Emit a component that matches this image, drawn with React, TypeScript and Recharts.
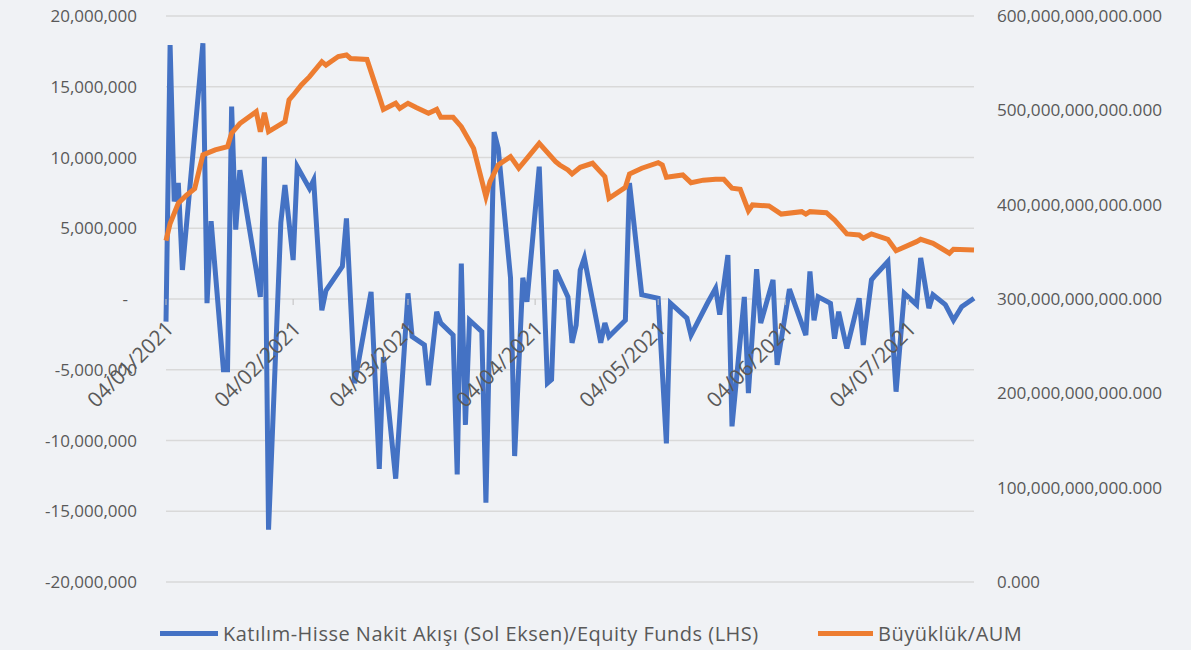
import React from 'react';
import { LineChart, Line, XAxis, YAxis, CartesianGrid } from 'recharts';

// Katılım-Hisse nakit akışı (TL), daily points
const flowDates = [
  '2021-01-04', '2021-01-05', '2021-01-06', '2021-01-07', '2021-01-08', '2021-01-13', '2021-01-14', '2021-01-15',
  '2021-01-18', '2021-01-19', '2021-01-20', '2021-01-21', '2021-01-22', '2021-01-26', '2021-01-27', '2021-01-28',
  '2021-01-29', '2021-02-01', '2021-02-02', '2021-02-04', '2021-02-05', '2021-02-08', '2021-02-09', '2021-02-11',
  '2021-02-12', '2021-02-16', '2021-02-17', '2021-02-19', '2021-02-23', '2021-02-25', '2021-02-26', '2021-03-01',
  '2021-03-04', '2021-03-05', '2021-03-08', '2021-03-09', '2021-03-11', '2021-03-12', '2021-03-15', '2021-03-16',
  '2021-03-17', '2021-03-18', '2021-03-19', '2021-03-22', '2021-03-23', '2021-03-25', '2021-03-26', '2021-03-29',
  '2021-03-30', '2021-04-01', '2021-04-02', '2021-04-05', '2021-04-07', '2021-04-08', '2021-04-09', '2021-04-12',
  '2021-04-13', '2021-04-14', '2021-04-15', '2021-04-16', '2021-04-20', '2021-04-21', '2021-04-22', '2021-04-26',
  '2021-04-27', '2021-04-30', '2021-05-04', '2021-05-06', '2021-05-07', '2021-05-11', '2021-05-12', '2021-05-16',
  '2021-05-18', '2021-05-19', '2021-05-21', '2021-05-22', '2021-05-25', '2021-05-26', '2021-05-28', '2021-05-29',
  '2021-06-01', '2021-06-02', '2021-06-05', '2021-06-09', '2021-06-10', '2021-06-11', '2021-06-12', '2021-06-15',
  '2021-06-16', '2021-06-17', '2021-06-19', '2021-06-22', '2021-06-23', '2021-06-25', '2021-06-26', '2021-06-29',
  '2021-07-01', '2021-07-03', '2021-07-06', '2021-07-07', '2021-07-09', '2021-07-10', '2021-07-13', '2021-07-15',
  '2021-07-17', '2021-07-20',
];
const flowValues = [
  -1600000, 17950000, 6900000, 8200000, 2050000, 18070000, -300000, 5500000,
  -5000000, -5000000, 13600000, 4900000, 9100000, 2050000, 150000, 10050000,
  -16300000, 5400000, 8050000, 2750000, 9350000, 7800000, 8400000, -800000,
  600000, 2300000, 5700000, -5950000, 500000, -12000000, -4100000, -12700000,
  400000, -2650000, -3250000, -6100000, -900000, -1700000, -2550000, -12400000,
  2500000, -8900000, -1500000, -2300000, -14400000, 11800000, 10650000, 1500000,
  -11100000, 1500000, -200000, 9350000, -5950000, -5700000, 2050000, 150000,
  -3100000, -1850000, 2050000, 2900000, -3100000, -1700000, -2650000, -1500000,
  8200000, 300000, 50000, -10200000, -300000, -1350000, -2550000, -300000,
  750000, -1100000, 3100000, -9000000, 150000, -6650000, 2100000, -1700000,
  1350000, -4650000, 700000, -2550000, 1950000, -1500000, 150000, -300000,
  -2800000, -900000, -3500000, 50000, -3250000, 1350000, 1700000, 2650000,
  -6550000, 400000, -400000, 2900000, -650000, 300000, -400000, -1500000,
  -550000, 50000,
];

// Büyüklük / AUM (billion TL)
const aumDates = [
  '2021-01-04', '2021-01-05', '2021-01-07', '2021-01-09', '2021-01-11', '2021-01-13', '2021-01-16', '2021-01-19',
  '2021-01-20', '2021-01-22', '2021-01-26', '2021-01-27', '2021-01-28', '2021-01-29', '2021-02-02', '2021-02-03',
  '2021-02-04', '2021-02-06', '2021-02-08', '2021-02-11', '2021-02-12', '2021-02-15', '2021-02-17', '2021-02-18',
  '2021-02-22', '2021-02-25', '2021-02-26', '2021-03-01', '2021-03-02', '2021-03-04', '2021-03-06', '2021-03-09',
  '2021-03-11', '2021-03-12', '2021-03-15', '2021-03-17', '2021-03-20', '2021-03-23', '2021-03-24', '2021-03-26',
  '2021-03-29', '2021-03-31', '2021-04-02', '2021-04-05', '2021-04-09', '2021-04-10', '2021-04-12', '2021-04-13',
  '2021-04-15', '2021-04-18', '2021-04-21', '2021-04-22', '2021-04-26', '2021-04-27', '2021-04-30', '2021-05-04',
  '2021-05-05', '2021-05-06', '2021-05-10', '2021-05-12', '2021-05-15', '2021-05-18', '2021-05-20', '2021-05-22',
  '2021-05-24', '2021-05-26', '2021-05-27', '2021-05-31', '2021-06-03', '2021-06-08', '2021-06-09', '2021-06-10',
  '2021-06-14', '2021-06-16', '2021-06-19', '2021-06-22', '2021-06-23', '2021-06-25', '2021-06-29', '2021-07-01',
  '2021-07-06', '2021-07-07', '2021-07-10', '2021-07-12', '2021-07-14', '2021-07-15', '2021-07-20',
];
const aumValues = [
  361.8, 380, 401.5, 410, 417, 452.7, 458, 461.5,
  475.7, 486, 498.6, 477.4, 497.5, 477.4, 488, 511,
  516, 527, 535.7, 551.6, 548, 557, 558.7, 555,
  554, 514.5, 501, 507.5, 502, 507.5, 503, 497,
  501, 492.6, 492.6, 482.7, 459.7, 408.5, 424.4, 442,
  450.9, 438.6, 449, 465, 445.6, 442, 436.8, 432.5,
  439.6, 443.9, 429.7, 406.8, 418.4, 432.5, 438.6, 444.5,
  442, 429, 431.5, 423.3, 426, 427, 427, 417.4,
  416.3, 393.6, 399.7, 398.6, 390, 392.6, 390, 392.6,
  391.5, 383.8, 369, 367.9, 364.4, 369, 363.3, 351.2,
  360.8, 363.3, 359, 353.8, 348.5, 352.7, 352,
];

const monthTicks = ['2021-01-04', '2021-02-04', '2021-03-04', '2021-04-04', '2021-05-04', '2021-06-04', '2021-07-04'];
const leftTicks = [-20000000, -15000000, -10000000, -5000000, 0, 5000000, 10000000, 15000000, 20000000];
const rightTicks = [0, 100, 200, 300, 400, 500, 600]; // billions

const toTime = (s: string) => Date.parse(s + 'T00:00:00Z');
const flowData = flowDates.map((d, i) => ({ t: toTime(d), flow: flowValues[i] }));
const aumData = aumDates.map((d, i) => ({ t: toTime(d), aum: aumValues[i] }));

const FONT = '"Open Sans", sans-serif';
const TEXT = '#595959';
const ZERO_Y = 299; // y of the 0 line, where the date labels sit

const fmtDate = (t: number) => {
  const d = new Date(t);
  const p = (n: number) => String(n).padStart(2, '0');
  return `${p(d.getUTCDate())}/${p(d.getUTCMonth() + 1)}/${d.getUTCFullYear()}`;
};

const DateTick = (props: any) => {
  const { x, payload } = props;
  const tx = x + 9;
  const ty = ZERO_Y + 31;
  return (
    <g>
      <line x1={x} x2={x} y1={ZERO_Y} y2={ZERO_Y + 6} stroke="#bfbfbf" />
      <text x={tx} y={ty} transform={`rotate(-45 ${tx} ${ty})`} textAnchor="end" fill={TEXT} fontSize={21} fontFamily={FONT}>
        {fmtDate(payload.value)}
      </text>
    </g>
  );
};

// accounting style: zero shows as a dash set in from the right edge
const LeftTick = (props: any) => {
  const { x, y, payload } = props;
  const v = payload.value;
  return (
    <text x={v === 0 ? x - 9 : x} y={y} dy="0.355em" textAnchor="end" fill={TEXT} fontSize={17} fontFamily={FONT}>
      {v === 0 ? '-' : v.toLocaleString('en-US')}
    </text>
  );
};

const RightTick = (props: any) => {
  const { x, y, payload } = props;
  const v = payload.value;
  const label = v === 0 ? '0.000' : `${v},000,000,000.000`;
  return (
    <text
      x={x}
      y={y}
      dy="0.355em"
      textAnchor="start"
      fill={TEXT}
      fontSize={17}
      fontFamily={FONT}
      textLength={v === 0 ? 43 : 165}
      lengthAdjust="spacingAndGlyphs"
    >
      {label}
    </text>
  );
};

const LegendItem = ({ color, label, left, lineW }: { color: string; label: string; left: number; lineW: number }) => (
  <div style={{ position: 'absolute', left, top: 619, display: 'flex', alignItems: 'center', height: 28 }}>
    <div style={{ width: lineW, height: 5, background: color, marginRight: 5 }} />
    <span style={{ fontFamily: FONT, fontSize: 20, letterSpacing: 0.5, color: TEXT, whiteSpace: 'nowrap' }}>{label}</span>
  </div>
);

export default function App() {
  return (
    <div style={{ position: 'absolute', left: 0, top: 0, width: 1191, height: 650, background: '#f0f2f5' }}>
      <LineChart width={1191} height={650} margin={{ top: 16, right: 0, bottom: 67, left: 0 }}>
        <CartesianGrid yAxisId="left" vertical={false} stroke="#d9d9d9" strokeWidth={1.5} />
        <XAxis
          dataKey="t"
          type="number"
          domain={[toTime('2021-01-04'), toTime('2021-07-20')]}
          ticks={monthTicks.map(toTime)}
          interval={0}
          tick={<DateTick />}
          axisLine={false}
          tickLine={false}
          height={1}
        />
        <YAxis
          yAxisId="left"
          width={166}
          domain={[-20000000, 20000000]}
          ticks={leftTicks}
          axisLine={false}
          tickLine={false}
          tickSize={0}
          tickMargin={29}
          tick={<LeftTick />}
        />
        <YAxis
          yAxisId="right"
          orientation="right"
          width={217}
          domain={[0, 600]}
          ticks={rightTicks}
          axisLine={false}
          tickLine={false}
          tickSize={0}
          tickMargin={23}
          tick={<RightTick />}
        />
        <Line
          yAxisId="left"
          data={flowData}
          dataKey="flow"
          type="linear"
          stroke="#4472c4"
          strokeWidth={5}
          dot={false}
          isAnimationActive={false}
        />
        <Line
          yAxisId="right"
          data={aumData}
          dataKey="aum"
          type="linear"
          stroke="#ed7d31"
          strokeWidth={5}
          dot={false}
          isAnimationActive={false}
        />
      </LineChart>
      <LegendItem color="#4472c4" label="Katılım-Hisse Nakit Akışı (Sol Eksen)/Equity Funds (LHS)" left={160} lineW={58} />
      <LegendItem color="#ed7d31" label="Büyüklük/AUM" left={818} lineW={55} />
    </div>
  );
}
